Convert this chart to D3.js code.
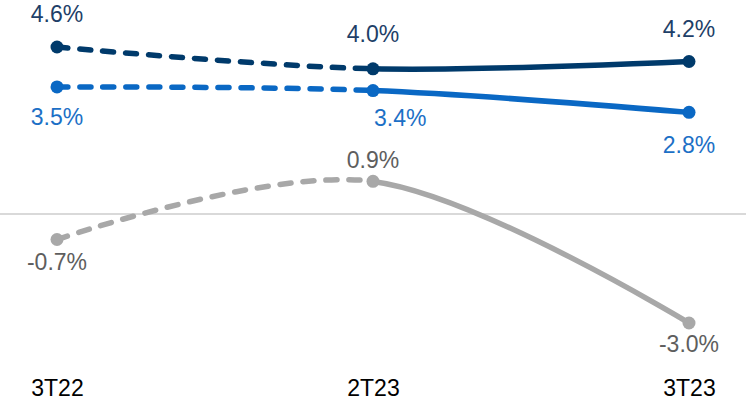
<!DOCTYPE html>
<html>
<head>
<meta charset="utf-8">
<script src="https://cdn.jsdelivr.net/npm/d3@7"></script>
<style>
  html, body { margin: 0; padding: 0; background: #ffffff; }
  svg { display: block; }
  text { font-family: "Liberation Sans", Arial, sans-serif; }
</style>
</head>
<body>
<svg id="chart" width="746" height="405"></svg>
<script>
// ---- data ----
const categories = ["3T22", "2T23", "3T23"];
const seriesNames = ["dark", "blue", "gray"];
const darkValues = [4.6, 4.0, 4.2];
const blueValues = [3.5, 3.4, 2.8];
const grayValues = [-0.7, 0.9, -3.0];
const darkLabels = ["4.6%", "4.0%", "4.2%"];
const blueLabels = ["3.5%", "3.4%", "2.8%"];
const grayLabels = ["-0.7%", "0.9%", "-3.0%"];

// ---- styles ----
const styles = {
  dark: { line: "#003a6b", text: "#1e3f68", offsets: [[0, -25], [0, -27], [0, -25]], anchors: ["middle", "middle", "middle"] },
  blue: { line: "#0a68c4", text: "#1c70c6", offsets: [[0, 38], [1, 35], [0, 41]], anchors: ["middle", "start", "middle"] },
  gray: { line: "#a8a8a8", text: "#5e5e5e", offsets: [[0, 31], [0, -13], [0, 29]], anchors: ["middle", "middle", "middle"] }
};
const values = { dark: darkValues, blue: blueValues, gray: grayValues };
const labels = { dark: darkLabels, blue: blueLabels, gray: grayLabels };

const svg = d3.select("#chart");
const W = 746, H = 405;

const x = d3.scalePoint().domain(categories).range([57, 689]);
const y = d3.scaleLinear().domain([-3.0, 4.6]).range([323, 47]);

// zero line
svg.append("line")
  .attr("x1", 0).attr("x2", W)
  .attr("y1", y(0)).attr("y2", y(0))
  .attr("stroke", "#d9d9d9").attr("stroke-width", 2);

// clip paths: dashed part (before 2T23), solid part (after 2T23)
const defs = svg.append("defs");
defs.append("clipPath").attr("id", "clipLeft")
  .append("rect").attr("x", 0).attr("y", 0).attr("width", x(categories[1])).attr("height", H);
defs.append("clipPath").attr("id", "clipRight")
  .append("rect").attr("x", x(categories[1])).attr("y", 0).attr("width", W - x(categories[1])).attr("height", H);

const line = d3.line()
  .x((d, i) => x(categories[i]))
  .y(d => y(d))
  .curve(d3.curveCardinal.tension(0));

// x-axis category labels
const xAxis = d3.axisBottom(x).tickSize(0).tickPadding(0);
const gx = svg.append("g").attr("transform", "translate(0,380)").call(xAxis);
gx.select(".domain").remove();
gx.selectAll("text")
  .attr("dy", "0.71em")
  .attr("y", 0)
  .style("font-family", "'Liberation Sans', Arial, sans-serif")
  .style("font-size", "23px")
  .attr("fill", "#000");

["gray", "blue", "dark"].forEach(name => {
  const vals = values[name];
  const st = styles[name];
  const g = svg.append("g");
  g.append("path")
    .attr("d", line(vals))
    .attr("fill", "none")
    .attr("stroke", st.line)
    .attr("stroke-width", 5.5)
    .attr("stroke-linecap", "round")
    .attr("stroke-dasharray", "11,12")
    .attr("clip-path", "url(#clipLeft)");
  g.append("path")
    .attr("d", line(vals))
    .attr("fill", "none")
    .attr("stroke", st.line)
    .attr("stroke-width", 5.5)
    .attr("stroke-linecap", "round")
    .attr("clip-path", "url(#clipRight)");
  g.selectAll("circle")
    .data(vals)
    .join("circle")
    .attr("cx", (d, i) => x(categories[i]))
    .attr("cy", d => y(d))
    .attr("r", 6.5)
    .attr("fill", st.line);
  g.selectAll("text.lbl")
    .data(vals)
    .join("text")
    .attr("class", "lbl")
    .attr("x", (d, i) => x(categories[i]) + st.offsets[i][0])
    .attr("y", (d, i) => y(d) + st.offsets[i][1])
    .attr("text-anchor", (d, i) => st.anchors[i])
    .attr("fill", st.text)
    .style("font-size", "23px")
    .text((d, i) => labels[name][i]);
});
</script>
</body>
</html>
